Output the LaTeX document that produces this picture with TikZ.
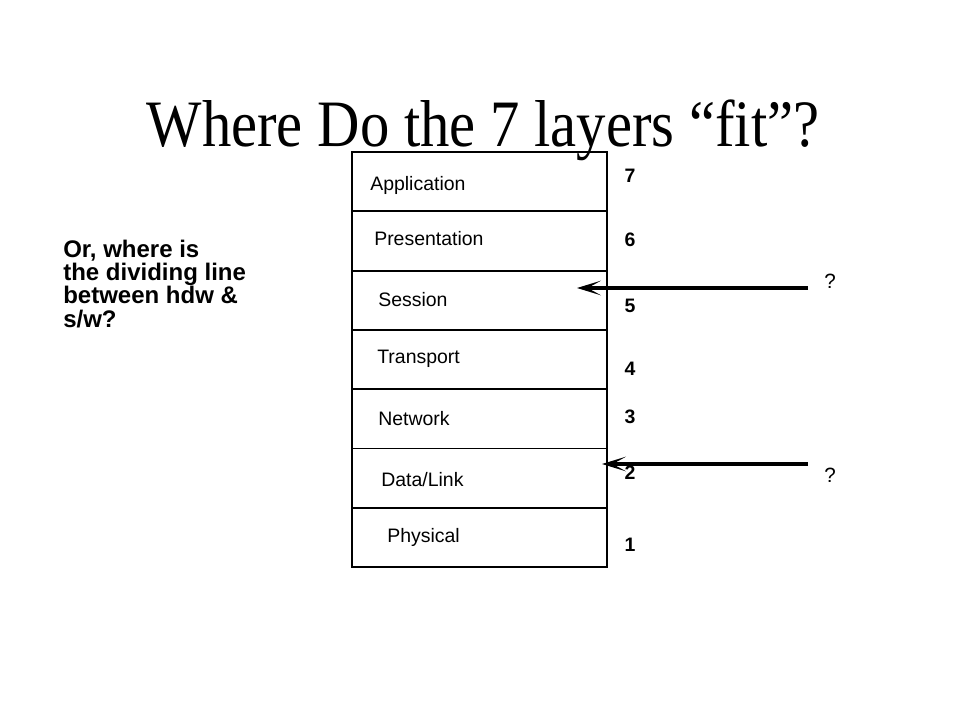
\documentclass[tikz,border=0pt]{standalone}
\usepackage{fontspec}
\setmainfont{Liberation Serif}
\setsansfont{Liberation Sans}
\usetikzlibrary{arrows.meta}

\tikzset{
  layerbox/.style={draw, line width=1.4pt, minimum width=191.25pt, minimum height=44.47pt, inner sep=0},
  layertext/.style={font=\sffamily\fontsize{14.6}{16}\selectfont, inner sep=0, anchor=base west},
  layernum/.style={font=\sffamily\bfseries\fontsize{14.6}{16}\selectfont, inner sep=0, anchor=base},
  bigarrow/.style={line width=3.2pt, -{Stealth[length=18pt 0, width=11pt 0, inset=10pt 0]}}
}

\begin{document}
\begin{tikzpicture}[x=0.75pt, y=-0.75pt]
\useasboundingbox (0,0) rectangle (960,720);

\node[font=\fontsize{44}{48}\selectfont, inner sep=0, anchor=base] (title) at (483,147) {\scalebox{1}[1.13]{Where Do the 7 layers “fit”?}};

% the stack, top to bottom
\foreach \i/\name/\lx/\ly/\ny in {7/Application/370/190.7/183,
                                  6/Presentation/374/246/247,
                                  5/Session/378/306.7/312,
                                  4/Transport/377/363/375,
                                  3/Network/378/425/423,
                                  2/Data\slash Link/381/486.7/479,
                                  1/Physical/387/542.7/551}
{
  \node[layerbox] (layer\i) at (479.5, {152+29.64+(7-\i)*59.29}) {};
  \node[layertext] (name\i) at (\lx,\ly) {\name};
  \node[layernum] (num\i) at (630,\ny) {\i};
}

\node[font=\sffamily\bfseries\fontsize{18}{17.5}\selectfont, align=left, inner sep=0, anchor=base west] (note) at (63,327)
  {Or, where is\\the dividing line\\between hdw \&\\s/w?};

\node[font=\sffamily\fontsize{15.5}{16}\selectfont, inner sep=0, anchor=base] (q1) at (830,289) {?};
\node[font=\sffamily\fontsize{15.5}{16}\selectfont, inner sep=0, anchor=base] (q2) at (830,482) {?};

\coordinate (from1) at (808,288);
\coordinate (to1) at (577,288);
\coordinate (from2) at (808,464);
\coordinate (to2) at (602,464);
\draw[bigarrow] (from1) -- (to1);
\draw[bigarrow] (from2) -- (to2);
\end{tikzpicture}
\end{document}
